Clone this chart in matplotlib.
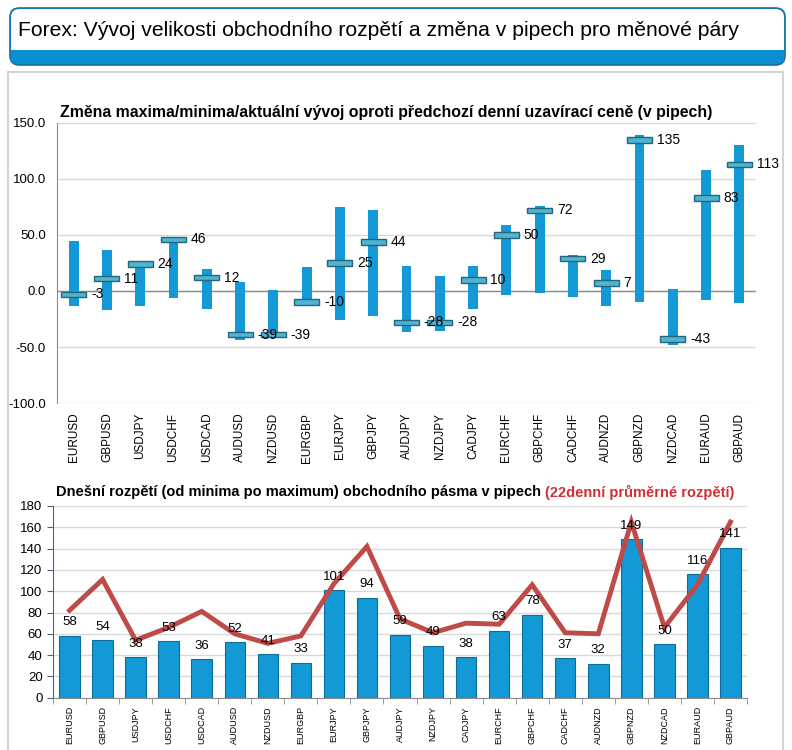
import matplotlib.pyplot as plt
import numpy as np
from matplotlib.patches import FancyBboxPatch, Rectangle

plt.rcParams['font.family'] = ['Liberation Sans', 'DejaVu Sans']

pairs = ['EURUSD', 'GBPUSD', 'USDJPY', 'USDCHF', 'USDCAD', 'AUDUSD', 'NZDUSD',
         'EURGBP', 'EURJPY', 'GBPJPY', 'AUDJPY', 'NZDJPY', 'CADJPY', 'EURCHF',
         'GBPCHF', 'CADCHF', 'AUDNZD', 'GBPNZD', 'NZDCAD', 'EURAUD', 'GBPAUD']

# change vs previous close (pips)
day_high = [45, 37, 25, 47, 20, 8, 1, 21, 75, 72, 22, 13, 22, 59, 76, 32, 19, 139, 2, 108, 130]
day_low = [-13, -17, -13, -6, -16, -44, -40, -12, -26, -22, -37, -36, -16, -4, -2, -5, -13, -10, -48, -8, -11]
day_close = [-3, 11, 24, 46, 12, -39, -39, -10, 25, 44, -28, -28, 10, 50, 72, 29, 7, 135, -43, 83, 113]

# today's range and 22-day average range (pips)
day_range = [58, 54, 38, 53, 36, 52, 41, 33, 101, 94, 59, 49, 38, 63, 78, 37, 32, 149, 50, 116, 141]
avg_range = [82, 111, 54, 66, 81, 60, 51, 58, 107, 142, 74, 61, 70, 69, 106, 61, 60, 165, 66, 106, 165]

W, H = 792, 750
fig = plt.figure(figsize=(W / 100, H / 100), dpi=100)
blue = '#1399d6'


def fx(px):
    return px / W


def fy(py):
    return 1 - py / H


# header box
fig.patches.append(FancyBboxPatch((fx(10), fy(65)), fx(775), 57 / H, boxstyle='round,pad=0,rounding_size=0.012',
                                  transform=fig.transFigure, facecolor='#0b8fd3', edgecolor='#1b6fa8', lw=1.2))
fig.patches.append(FancyBboxPatch((fx(11), fy(56)), fx(773), 47 / H, boxstyle='round,pad=0,rounding_size=0.011',
                                  transform=fig.transFigure, facecolor='white', edgecolor='none'))
fig.patches.append(Rectangle((fx(11), fy(62)), fx(773), 12 / H, transform=fig.transFigure,
                             facecolor='#0b8fd3', edgecolor='none'))
fig.text(fx(18), fy(31), 'Forex: Vývoj velikosti obchodního rozpětí a změna v pipech pro měnové páry',
         fontsize=15.2, va='center', ha='left')

# content panel
fig.patches.append(Rectangle((fx(8), fy(752)), fx(775), 680 / H, transform=fig.transFigure,
                             facecolor='none', edgecolor='#d4d4d4', lw=1.5))

x = np.arange(len(pairs))

# ---- top chart ----
ax1 = fig.add_axes([fx(57), fy(403), fx(756 - 57), (403 - 123) / H])
ax1.set_xlim(-0.5, len(pairs) - 0.5)
ax1.set_ylim(-100, 150)
ax1.set_yticks([-100, -50, 0, 50, 100, 150])
ax1.set_yticklabels(['%.1f' % v for v in [-100, -50, 0, 50, 100, 150]], fontsize=9.5)
ax1.grid(axis='y', color='#d9d9d9', lw=1)
ax1.set_axisbelow(True)
ax1.axhline(0, color='#8c8c8c', lw=1, zorder=1)
for s in ['top', 'right', 'bottom']:
    ax1.spines[s].set_visible(False)
ax1.spines['left'].set_color('#8c8c8c')
ax1.tick_params(axis='y', length=0, pad=8)
ax1.tick_params(axis='x', length=0, pad=7)
ax1.set_xticks(x)
ax1.set_xticklabels(pairs, rotation=90, fontsize=8.5)

lo = np.array(day_low)
hi = np.array(day_high)
ax1.bar(x, hi - lo, bottom=lo, width=0.3, color=blue, zorder=2)
ax1.bar(x, 5, bottom=np.array(day_close) - 2.5, width=0.75, color='#4db4d2', edgecolor='#27657a',
        lw=1, zorder=3)
for i, c in enumerate(day_close):
    ax1.text(i + 0.52, c, str(c), fontsize=10, va='center', ha='left', zorder=4)
fig.text(fx(60), fy(112), 'Změna maxima/minima/aktuální vývoj oproti předchozí denní uzavírací ceně (v pipech)',
         fontsize=11.4, fontweight='bold', va='center', ha='left')

# ---- bottom chart ----
ax2 = fig.add_axes([fx(53), fy(697.7), fx(747 - 53), (697.7 - 506) / H])
ax2.set_xlim(-0.5, len(pairs) - 0.5)
ax2.set_ylim(0, 180)
ax2.set_yticks(np.arange(0, 181, 20))
ax2.tick_params(axis='y', labelsize=9.5, length=4, color='#4a6584')
ax2.grid(axis='y', color='#d9d9d9', lw=1)
ax2.set_axisbelow(True)
for s in ['top', 'right']:
    ax2.spines[s].set_visible(False)
ax2.spines['left'].set_color('#4a6584')
ax2.spines['bottom'].set_color('#8c8c8c')
ax2.set_xticks(x)
ax2.set_xticklabels(pairs, rotation=90, fontsize=6.5)
ax2.set_xticks(np.arange(-0.5, len(pairs)), minor=True)
ax2.tick_params(axis='x', which='major', length=0, pad=6)
ax2.tick_params(axis='x', which='minor', length=4, color='#8c8c8c')

ax2.bar(x, day_range, width=0.62, color=blue, edgecolor='#0d6e9c', lw=0.8, zorder=2)
for i, v in enumerate(day_range):
    ax2.text(i, v + 7, str(v), fontsize=9.5, ha='center', va='bottom', zorder=4)
ax2.plot(x, avg_range, color='#be4b48', lw=3.5, zorder=3, solid_joinstyle='miter')

t1 = fig.text(fx(56), fy(492), 'Dnešní rozpětí (od minima po maximum) obchodního pásma v pipech ',
              fontsize=10.5, fontweight='bold', va='center', ha='left')
fig.canvas.draw()
bb = t1.get_window_extent()
fig.text(bb.x1 / W, fy(492), '(22denní průměrné rozpětí)', fontsize=10.5, fontweight='bold',
         va='center', ha='left', color='#d22f35')

fig.savefig('out.png', dpi=100)
